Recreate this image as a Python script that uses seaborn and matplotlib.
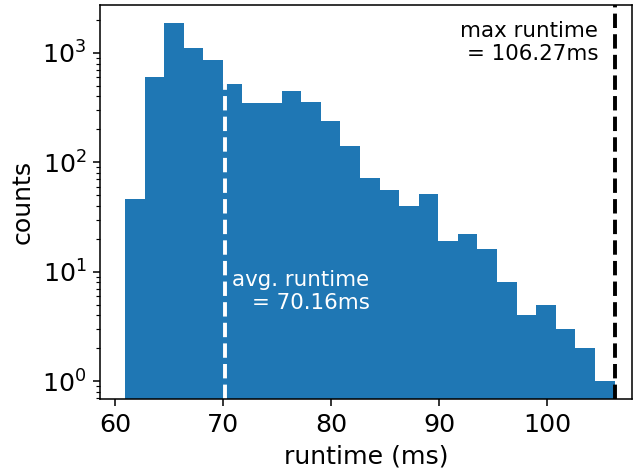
import numpy as np
import pandas as pd
import seaborn as sns
import matplotlib
matplotlib.use("Agg")
import matplotlib.pyplot as plt
import matplotlib.transforms as mtransforms

# runtime histogram (counts per bin)
min_runtime = 60.9
max_runtime = 106.27
avg_runtime = 70.16
n_bins = 25
counts = [46, 597, 1872, 1099, 859, 516, 350, 350, 448, 358, 237, 142, 72,
          56, 40, 51, 19, 22, 16, 8, 4, 5, 3, 2, 1]


def graficar_histograma():
    edges = np.linspace(min_runtime, max_runtime, n_bins + 1)
    centros = (edges[:-1] + edges[1:]) / 2
    df = pd.DataFrame({"runtime": centros, "counts": counts})

    fig, ax = plt.subplots(figsize=(634 / 140, 473 / 140), dpi=140)
    fig.subplots_adjust(left=0.158, right=0.997, top=0.989, bottom=0.156)

    sns.histplot(
        data=df,
        x="runtime",
        weights="counts",
        bins=n_bins,
        binrange=(min_runtime, max_runtime),
        color="#1f77b4",
        alpha=1,
        linewidth=0,
        ax=ax,
    )
    ax.set_yscale("log")
    ax.set_xlim(58.6, 107.9)

    ax.axvline(avg_runtime, color="white", linestyle="--", linewidth=2)
    ax.axvline(max_runtime, color="black", linestyle="--", linewidth=2)

    ax.text(avg_runtime + 0.7, 6.6, f"avg. runtime\n= {avg_runtime:.2f}ms",
            color="white", fontsize=11, ha="left", va="center",
            multialignment="right")
    trans = mtransforms.blended_transform_factory(ax.transData, ax.transAxes)
    ax.text(max_runtime - 1.5, 0.96, f"max runtime\n= {max_runtime:.2f}ms",
            color="black", fontsize=11, ha="right", va="top",
            multialignment="right", transform=trans)

    ax.set_xlabel("runtime (ms)", fontsize=13)
    ax.set_ylabel("counts", fontsize=13)
    ax.tick_params(labelsize=13)

    fig.savefig("out.png", dpi=140)


if __name__ == "__main__":
    graficar_histograma()
